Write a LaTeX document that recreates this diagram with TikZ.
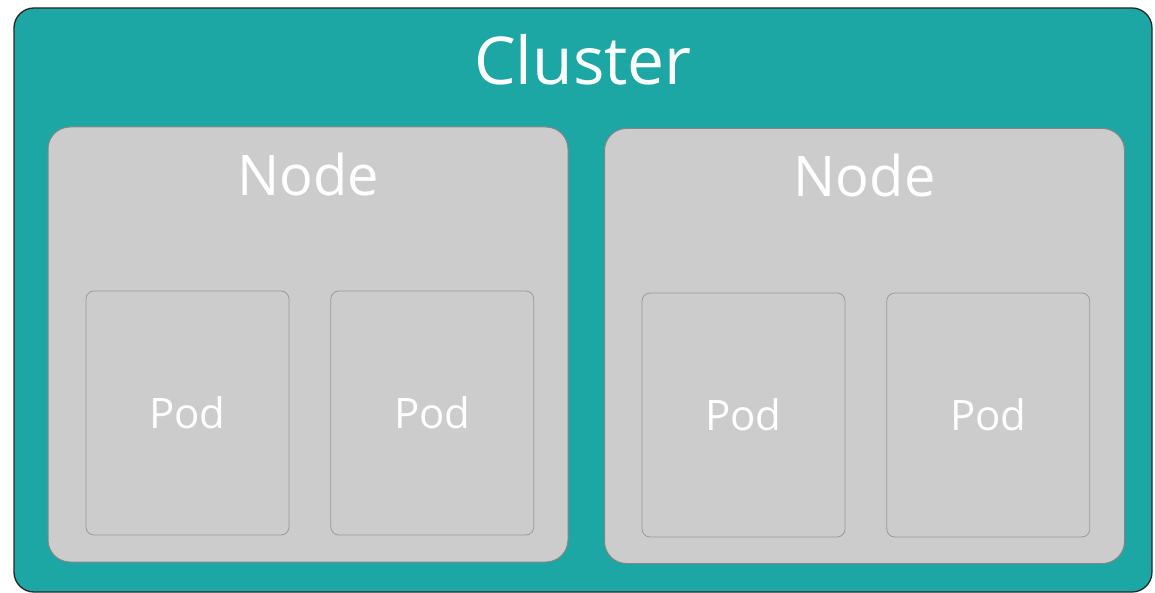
\documentclass[tikz,border=0pt]{standalone}
\usepackage{fontspec}
\setmainfont{Open Sans}
\usetikzlibrary{positioning}
\definecolor{clusterteal}{HTML}{1CA6A4}
\definecolor{boxgray}{HTML}{CCCCCC}
\definecolor{nodeedge}{HTML}{858585}
\definecolor{podedge}{HTML}{9A9A9A}
\tikzset{
  cluster/.style={draw=black!85, line width=1.3pt, fill=clusterteal, rounded corners=20pt,
    minimum width=1138pt, minimum height=584pt, inner sep=0pt},
  worker/.style={draw=nodeedge, line width=1pt, fill=boxgray, rounded corners=22pt,
    minimum width=520pt, minimum height=435pt, inner sep=0pt},
  pod/.style={draw=podedge, line width=0.8pt, fill=boxgray, rounded corners=8pt,
    minimum width=203pt, minimum height=244pt, inner sep=0pt, text=white,
    font=\fontsize{42}{50}\selectfont},
  title/.style={text=white, anchor=base, inner sep=0pt}
}
\begin{document}
\begin{tikzpicture}[x=1pt,y=-1pt]
  \useasboundingbox (0,0) rectangle (1155,593);
  \node[cluster] (cl) at (583,300) {};
  \node[title, font=\fontsize{66}{80}\selectfont] (cltitle) at ([yshift=-77pt]cl.north) {Cluster};

  % worker nodes
  \node[worker] (n1) at (308,344.5) {};
  \node[worker] (n2) at (864.5,346) {};
  \node[title, font=\fontsize{56}{67}\selectfont] (n1title) at ([yshift=-69pt]n1.north) {Node};
  \node[title, font=\fontsize{56}{67}\selectfont] (n2title) at ([yshift=-69pt]n2.north) {Node};

  % pods
  \node[pod] (p1) at (187.5,413) {Pod};
  \node[pod] (p2) [right=41pt of p1] {Pod};
  \node[pod] (p3) at (743.5,415) {Pod};
  \node[pod] (p4) [right=41pt of p3] {Pod};
\end{tikzpicture}
\end{document}
